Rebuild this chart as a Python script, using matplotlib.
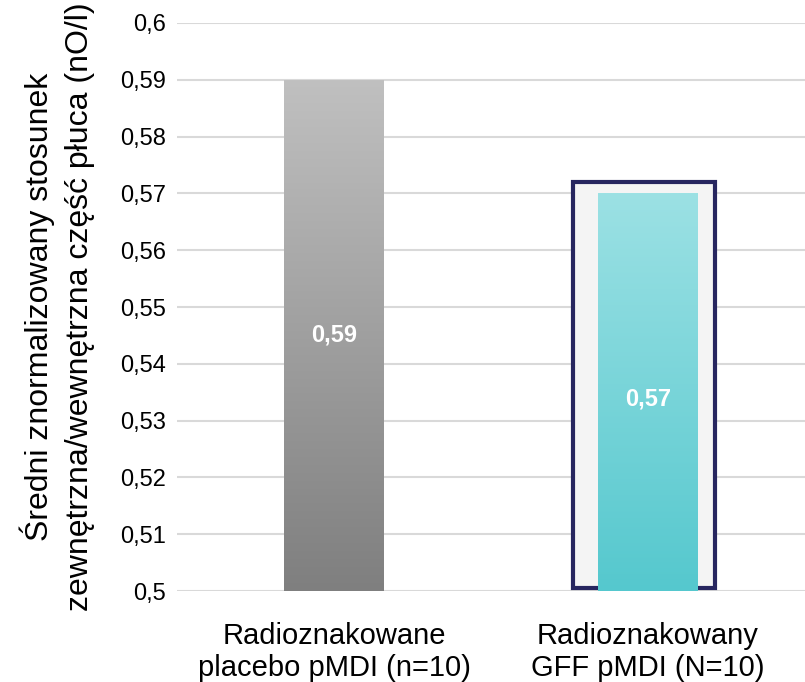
import numpy as np
import matplotlib.pyplot as plt
from matplotlib.colors import LinearSegmentedColormap
from matplotlib.patches import Rectangle

plt.rcParams['font.family'] = ['Liberation Sans', 'DejaVu Sans']

categories = ['Radioznakowane\nplacebo pMDI (n=10)', 'Radioznakowany\nGFF pMDI (N=10)']
values = [0.59, 0.57]
value_labels = ['0,59', '0,57']
yticks = [0.5, 0.51, 0.52, 0.53, 0.54, 0.55, 0.56, 0.57, 0.58, 0.59, 0.6]
ytick_labels = ['0,5', '0,51', '0,52', '0,53', '0,54', '0,55', '0,56', '0,57', '0,58', '0,59', '0,6']
box_top = 0.572  # wysokość ramki wokół drugiego słupka

# kolory gradientu: (dół, góra)
grads = [('#7f7f7f', '#c0c0c0'), ('#55c8ce', '#9ce1e4')]

fig = plt.figure(figsize=(8.05, 6.82), dpi=100)
ax = fig.add_axes([0.22, 0.1334, 0.78, 0.8329])

ymin, ymax = 0.5, 0.6

for y in yticks:
    ax.axhline(y, color='#d9d9d9', lw=1.5, zorder=0)

# ramka wokół drugiego słupka
ax.add_patch(Rectangle((0.762, ymin + 0.0005), 0.451, box_top - ymin - 0.0005,
                       facecolor='#f4f4f4', edgecolor='#27265f', lw=3, zorder=1))

width = 0.317
x = np.arange(len(categories))
for i, (v, (c0, c1)) in enumerate(zip(values, grads)):
    bar = ax.bar(x[i], v - ymin, bottom=ymin, width=width, color='none', zorder=2)[0]
    cmap = LinearSegmentedColormap.from_list('g%d' % i, [c0, c1])
    grad = np.linspace(0, 1, 256).reshape(-1, 1)
    im = ax.imshow(grad, cmap=cmap, origin='lower', aspect='auto', zorder=2,
                   extent=[x[i] - width / 2, x[i] + width / 2, ymin, v])
    im.set_clip_path(bar)
    ax.text(x[i], (ymin + v) / 2 - 0.0012 * i, value_labels[i], color='white',
            fontsize=17, fontweight='bold', ha='center', va='center', zorder=3)

ax.set_xlim(-0.5, 1.5)
ax.set_ylim(ymin, ymax)
ax.set_xticks(x)
ax.set_xticklabels(categories, fontsize=21, linespacing=1.2)
ax.set_yticks(yticks)
ax.set_yticklabels(ytick_labels, fontsize=17)
ax.tick_params(length=0, pad=8)
ax.tick_params(axis='x', pad=22)
for s in ax.spines.values():
    s.set_visible(False)

ax.set_ylabel('Średni znormalizowany stosunek\nzewnętrzna/wewnętrzna część płuca (nO/l)',
              fontsize=23, linespacing=1.45, labelpad=18)

fig.savefig('out.png', dpi=100)
